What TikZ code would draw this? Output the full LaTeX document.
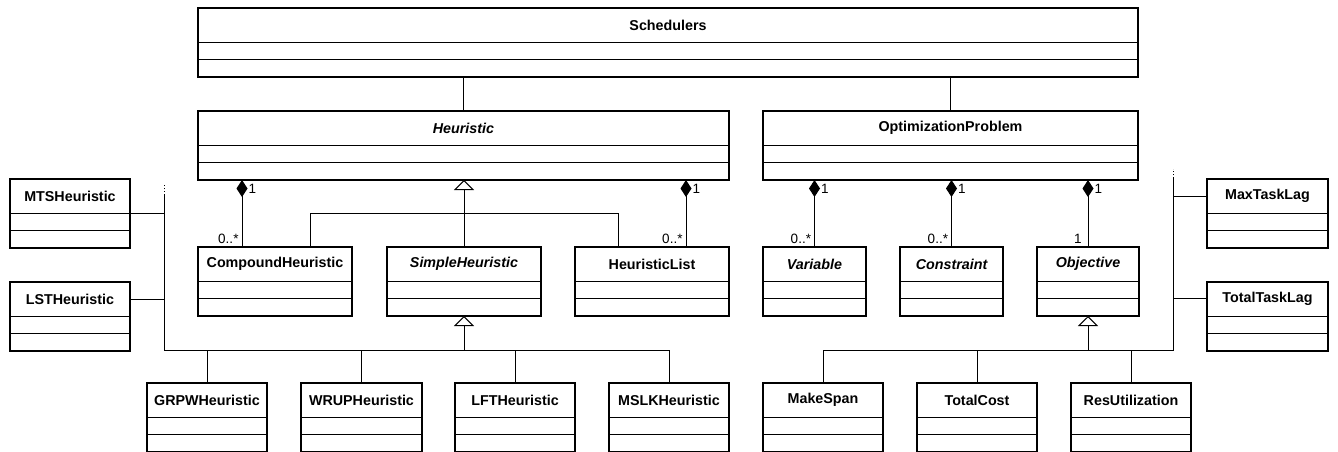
\documentclass[tikz,border=0pt]{standalone}
\usepackage{fontspec}
\setmainfont{Liberation Sans}
\usetikzlibrary{arrows.meta,calc}

\tikzset{
  classbox/.style={draw, line width=1.6pt, rectangle, inner sep=0pt, outer sep=0pt, anchor=north west},
  divider/.style={line width=0.9pt},
  classname/.style={font=\fontsize{14.3}{16}\selectfont\bfseries, inner sep=0pt},
  abstract/.style={classname, font=\fontsize{14.3}{16}\selectfont\bfseries\itshape},
  link/.style={line width=1pt},
  composition/.style={link, {Diamond[length=17pt,width=11pt]}-},
  generalization/.style={link, {Triangle[open,fill=white,length=10pt,width=20pt]}-},
  mult/.style={font=\fontsize{13.5}{15}\selectfont, inner sep=0pt},
  stub/.style={link, dash pattern=on 1pt off 2pt},
}

% UML class box: [title style]{name}{x1}{y1}{x2}{y2}{title}
\newcommand\umlclass[7][classname]{%
  \node[classbox, minimum width={#5-#3}, minimum height={#6-#4}] (#2) at (#3,#4) {};
  \node[#1] (#2-title) at ($(#2.north)+(0,17)$) {#7};
  \draw[divider] ($(#2.north west)+(0,34)$) -- ($(#2.north east)+(0,34)$);
  \draw[divider] ($(#2.north west)+(0,51)$) -- ($(#2.north east)+(0,51)$);
}

\begin{document}
\begin{tikzpicture}[x=1pt,y=-1pt]
\useasboundingbox (0,0) rectangle (1338,452);

% classes
\umlclass{sched}{198}{8}{1138}{77}{Schedulers}
\umlclass[abstract]{heur}{198}{111}{729}{180}{Heuristic}
\umlclass{opt}{763}{111}{1138}{180}{OptimizationProblem}
\umlclass{mts}{10}{179}{130}{248}{MTSHeuristic}
\umlclass{lst}{10}{282}{130}{351}{LSTHeuristic}
\umlclass{compound}{198}{247}{352}{316}{CompoundHeuristic}
\umlclass[abstract]{simple}{387}{247}{541}{316}{SimpleHeuristic}
\umlclass{hlist}{575}{247}{729}{316}{HeuristicList}
\umlclass[abstract]{variable}{763}{247}{866}{316}{Variable}
\umlclass[abstract]{constraint}{900}{247}{1003}{316}{Constraint}
\umlclass[abstract]{objective}{1037}{247}{1139}{316}{Objective}
\umlclass{maxlag}{1207}{179}{1328}{248}{MaxTaskLag}
\umlclass{totallag}{1207}{282}{1328}{351}{TotalTaskLag}
\umlclass{grpw}{147}{383}{267}{452}{GRPWHeuristic}
\umlclass{wrup}{301}{383}{422}{452}{WRUPHeuristic}
\umlclass{lft}{455}{383}{575}{452}{LFTHeuristic}
\umlclass{mslk}{609}{383}{729}{452}{MSLKHeuristic}
\umlclass{makespan}{763}{383}{883}{452}{MakeSpan}
\umlclass{totalcost}{917}{383}{1037}{452}{TotalCost}
\umlclass{resutil}{1071}{383}{1191}{452}{ResUtilization}

% associations with Schedulers
\draw[link] (sched.south -| heur.north) -- (heur.north);
\draw[link] (sched.south -| opt.north) -- (opt.north);

% compositions
\coordinate (c-compound) at ($(compound.north west)+(44,0)$);
\coordinate (c-hlist) at ($(hlist.north west)+(111,0)$);
\draw[composition] (heur.south -| c-compound) -- (c-compound)
  node[mult, pos=0, anchor=west, xshift=6pt, yshift=-9pt] {1}
  node[mult, pos=1, anchor=east, xshift=-3pt, yshift=8pt] {0..*};
\draw[composition] (heur.south -| c-hlist) -- (c-hlist)
  node[mult, pos=0, anchor=west, xshift=6pt, yshift=-9pt] {1}
  node[mult, pos=1, anchor=east, xshift=-3pt, yshift=8pt] {0..*};
\draw[composition] (opt.south -| variable.north) -- (variable.north)
  node[mult, pos=0, anchor=west, xshift=6pt, yshift=-9pt] {1}
  node[mult, pos=1, anchor=east, xshift=-3pt, yshift=8pt] {0..*};
\draw[composition] (opt.south -| constraint.north) -- (constraint.north)
  node[mult, pos=0, anchor=west, xshift=6pt, yshift=-9pt] {1}
  node[mult, pos=1, anchor=east, xshift=-3pt, yshift=8pt] {0..*};
\draw[composition] (opt.south -| objective.north) -- (objective.north)
  node[mult, pos=0, anchor=west, xshift=6pt, yshift=-9pt] {1}
  node[mult, pos=1, anchor=east, xshift=-6pt, yshift=8pt] {1};

% Heuristic hierarchy
\draw[generalization] (heur.south -| simple.north) -- (simple.north);
\coordinate (j-compound) at ($(compound.north east)+(-42,0)$);
\coordinate (j-hlist) at ($(hlist.north west)+(43,0)$);
\draw[link] (j-compound) -- ++(0,-34) -| (j-hlist);

% SimpleHeuristic hierarchy
\coordinate (lbus-top) at (164,195);
\coordinate (lbus-end) at (164,350);
\draw[generalization] (simple.south) -- (simple.south |- lbus-end);
\draw[stub] (lbus-top) -- ++(0,-10);
\draw[link] (lbus-top) -- (lbus-end) -| (mslk.north);
\foreach \n in {grpw,wrup,lft}
  \draw[link] (\n.north) -- (\n.north |- lbus-end);
\draw[link] (mts.east) -- (mts.east -| lbus-end);
\draw[link] ($(lst.north east)+(0,17)$) coordinate (j-lst) -- (j-lst -| lbus-end);

% Objective hierarchy
\coordinate (rbus-top) at (1173,178);
\coordinate (rbus-end) at (1173,350);
\draw[generalization] (objective.south) -- (objective.south |- rbus-end);
\draw[stub] (rbus-top) -- ++(0,-9);
\draw[link] (rbus-top) -- (rbus-end) -| (makespan.north);
\foreach \n in {totalcost,resutil}
  \draw[link] (\n.north) -- (\n.north |- rbus-end);
\draw[link] ($(maxlag.north west)+(0,17)$) coordinate (j-maxlag) -- (j-maxlag -| rbus-end);
\draw[link] ($(totallag.north west)+(0,16)$) coordinate (j-totallag) -- (j-totallag -| rbus-end);
\end{tikzpicture}
\end{document}
